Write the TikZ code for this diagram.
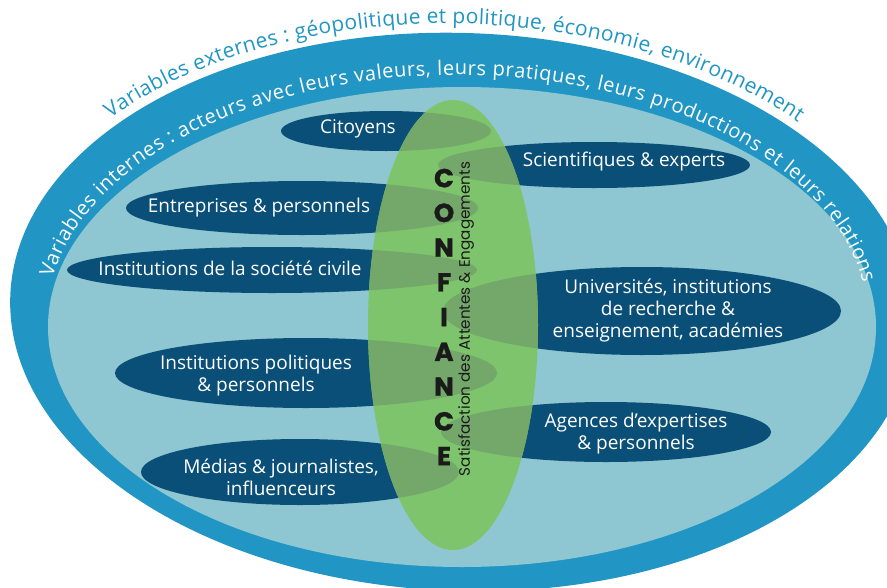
\documentclass[tikz,border=0pt]{standalone}
\usepackage{fontspec}
\setmainfont{Open Sans}
\newfontfamily\popfont{Poppins}
\newfontfamily\heavyfont{Poppins}[BoldFeatures={FakeBold=1.2}]
\usetikzlibrary{decorations.text}
\definecolor{ringblue}{HTML}{2196C4}
\definecolor{lightblue}{HTML}{8EC6D1}
\definecolor{darkblue}{HTML}{0A4F77}
\definecolor{leafgreen}{HTML}{7DC46C}
\definecolor{overlapgreen}{HTML}{73A86A}
\definecolor{inkblack}{HTML}{1A1A1A}
\begin{document}
\begin{tikzpicture}[x=1pt,y=-1pt,
  actorlabel/.style={text=white, font=\fontsize{19}{22}\selectfont, align=center, inner sep=0pt},
  ringtext/.style={decorate, decoration={text along path, text align={fit to path}, text={#1}}}]
\useasboundingbox (0,0) rectangle (887,587);
% outer ring and external text
\begin{scope}[shift={(462,312)}, rotate=-2]
  \fill[ringblue] (0,0) ellipse [x radius=452, y radius=279];
  \path[ringtext={|\color{ringblue}\fontsize{21}{22}\selectfont|Variables externes : géopolitique et politique, économie, environnement}]
    (-141:461 and 288) arc[start angle=-141, end angle=-44.4, x radius=461, y radius=288];
\end{scope}
\fill[lightblue] (462,327) ellipse [x radius=414, y radius=240];
% actor ellipses
\foreach \cx/\cy/\rx/\ry in {386/131/105/20, 594/165/156/23, 302/208/176/27, 272/270/205/23, 642/311/199/44, 306/373/191/35, 606/432/165/30, 300/472/159/33}
  \fill[darkblue] (\cx,\cy) ellipse [x radius=\rx, y radius=\ry];
% confidence ellipse
\fill[leafgreen] (453,325) ellipse [x radius=85, y radius=225];
\begin{scope}
  \clip (453,325) ellipse [x radius=85, y radius=225];
  \foreach \cx/\cy/\rx/\ry in {386/131/105/20, 594/165/156/23, 302/208/176/27, 272/270/205/23, 642/311/199/44, 306/373/191/35, 606/432/165/30, 300/472/159/33}
    \fill[overlapgreen] (\cx,\cy) ellipse [x radius=\rx, y radius=\ry];
\end{scope}
% internal ring text
\path[ringtext={|\color{white}\fontsize{20}{22}\selectfont|Variables internes : acteurs avec leurs valeurs, leurs pratiques, leurs productions et leurs relations}]
  (457,318) ++(189.5:410 and 243) arc[start angle=189.5, end angle=351.5, x radius=410, y radius=243];
% actor labels
\node[actorlabel] (citoyens) at (358,129) {Citoyens};
\node[actorlabel] (scientifiques) at (624,162) {Scientifiques \& experts};
\node[actorlabel] (entreprises) at (259,208) {Entreprises \& personnels};
\node[actorlabel] (societe) at (230,268) {Institutions de la société civile};
\node[actorlabel] (universites) at (668,310) {Universités, institutions\\de recherche \&\\enseignement, académies};
\node[actorlabel] (politiques) at (256,376) {Institutions politiques\\\& personnels};
\node[actorlabel] (agences) at (636,434) {Agences d'expertises\\\& personnels};
\node[actorlabel] (medias) at (281,477) {Médias \& journalistes,\\influenceurs};
% confiance
\node[text=inkblack, font=\heavyfont\bfseries\fontsize{26}{34.75}\selectfont, align=center, inner sep=0pt] (confiance) at (444,317) {C\\O\\N\\F\\I\\A\\N\\C\\E};
\node[text=inkblack, font=\popfont\fontsize{15.2}{16}\selectfont, rotate=90, inner sep=0pt] (satisfaction) at (466,319) {Satisfaction des Attentes \& Engagements};
\end{tikzpicture}
\end{document}
